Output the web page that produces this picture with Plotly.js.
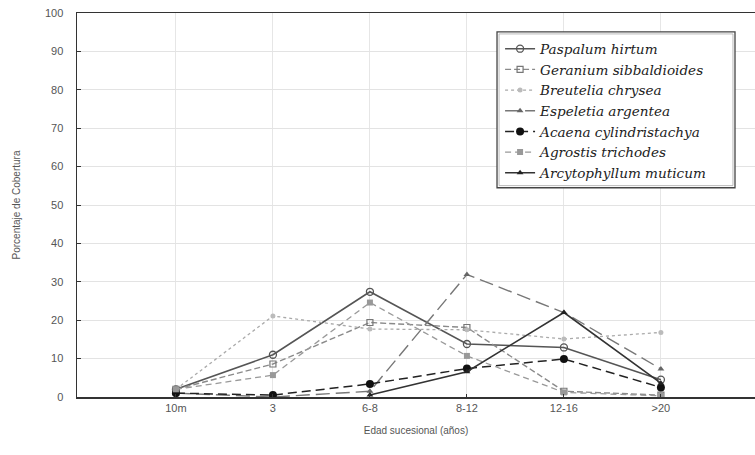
<!DOCTYPE html>
<html><head><meta charset="utf-8">
<script src="https://cdn.plot.ly/plotly-3.0.1.min.js"></script>
<style>html,body{margin:0;padding:0;background:#fff}#chart{width:755px;height:455px}</style>
</head><body><div id="chart"></div>
<script>
const categories = ["10m", "3", "6-8", "8-12", "12-16", ">20"];
const paspalum = [2, 11, 27.4, 13.8, 12.9, 4.5];
const geranium = [2, 8.6, 19.4, 18.1, 1.5, 0.5];
const breutelia = [2, 21.1, 17.7, 17.5, 15.1, 16.8];
const espeletia = [1, 0, 1.5, 31.9, 22, 7.3];
const acaena = [1, 0.5, 3.4, 7.4, 9.9, 2.5];
const agrostis = [2, 5.7, 24.6, 10.7, 1.2, 0.3];
const arcytophyllum = [null, null, 0.5, 6.6, 22, 3.6];
const names = ["Paspalum hirtum", "Geranium sibbaldioides", "Breutelia chrysea", "Espeletia argentea", "Acaena cylindristachya", "Agrostis trichodes", "Arcytophyllum muticum"];
const series = [paspalum, geranium, breutelia, espeletia, acaena, agrostis, arcytophyllum];
const styles = [
  {line:{color:'#555', width:1.6, dash:'solid'}, marker:{symbol:'circle-open', size:7, color:'#555', line:{width:1.3}}},
  {line:{color:'#8a8a8a', width:1.4, dash:'6px,3px'}, marker:{symbol:'square-open', size:6, color:'#777', line:{width:1.2}}},
  {line:{color:'#aaa', width:1.3, dash:'dot'}, marker:{symbol:'circle', size:5, color:'#bbb'}},
  {line:{color:'#777', width:1.4, dash:'14px,6px'}, marker:{symbol:'triangle-up', size:6, color:'#666'}},
  {line:{color:'#222', width:1.5, dash:'9px,5px'}, marker:{symbol:'circle', size:8, color:'#111'}},
  {line:{color:'#999', width:1.3, dash:'6px,4px'}, marker:{symbol:'square', size:6, color:'#999'}},
  {line:{color:'#333', width:1.6, dash:'solid'}, marker:{symbol:'triangle-up', size:6, color:'#222'}}
];
const xs = categories.map((c,i)=>i);
const traces = series.map((s,k)=>({
  x: xs, y: s, name: names[k], type:'scatter', mode:'lines+markers',
  line: styles[k].line, marker: styles[k].marker, connectgaps:false
}));
const layout = {
  width:755, height:455,
  margin:{l:77, r:0, t:13, b:57.5},
  paper_bgcolor:'#fff', plot_bgcolor:'#fff',
  font:{family:'Liberation Sans, Arial, sans-serif', size:11, color:'#555555'},
  showlegend:true,
  xaxis:{
    range:[-1.02, 5.97], tickmode:'array', tickvals: xs, ticktext: categories,
    showgrid:true, gridcolor:'#e6e6e6', gridwidth:1,
    showline:true, linecolor:'#333', linewidth:1.5, mirror:true,
    ticks:'inside', ticklen:3, tickcolor:'#333', zeroline:false,
    tickfont:{size:11, color:'#555555'},
    title:{text:'Edad sucesional (años)', font:{size:10, color:'#555555'}, standoff:14}
  },
  yaxis:{
    range:[0,100], dtick:10, tick0:0,
    showgrid:true, gridcolor:'#e3e3e3', gridwidth:1,
    showline:true, linecolor:'#333', linewidth:1.5,
    ticks:'inside', ticklen:4, tickcolor:'#333', zeroline:false,
    tickfont:{size:11, color:'#555555'}, ticklabelstandoff:10,
    title:{text:'Porcentaje de Cobertura', font:{size:10, color:'#555555'}, standoff:22}
  },
  legend:{
    x:0.624, y:0.947, xanchor:'left', yanchor:'top',
    bgcolor:'rgba(255,255,255,0)', bordercolor:'#999', borderwidth:0,
    font:{family:'DejaVu Serif, Liberation Serif, serif', size:13.6, color:'#222', style:'italic'},
    itemwidth:30, tracegroupgap:0
  },
  shapes:[
    {type:'rect', xref:'paper', yref:'paper', x0:0.6195, x1:0.9705, y0:0.5449, y1:0.9506, line:{color:'#444', width:1.3}, fillcolor:'#fff', layer:'above'},
    {type:'rect', xref:'paper', yref:'paper', x0:0.6225, x1:0.9675, y0:0.5505, y1:0.9455, line:{color:'#aaa', width:0.8}, layer:'above'}
  ]
};
Plotly.newPlot('chart', traces, layout, {staticPlot:true});
</script></body></html>
